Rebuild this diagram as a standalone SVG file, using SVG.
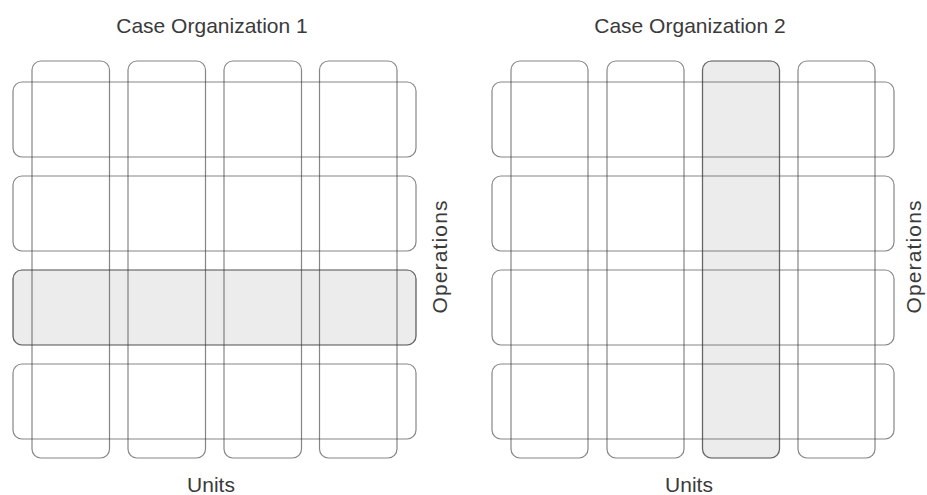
<svg xmlns="http://www.w3.org/2000/svg" width="927" height="495" viewBox="0 0 927 495">
  <style>
    .cell { fill: none; stroke: #3c3c3c; stroke-opacity: 0.62; stroke-width: 1.2; }
    .hl { fill: #ececec; stroke: #3c3c3c; stroke-opacity: 0.4; stroke-width: 1.2; }
    .label { font-family: "Liberation Sans", Arial, sans-serif; font-size: 21px; fill: #3a3a3a; }
  </style>
  <rect width="927" height="495" fill="#ffffff"/>

  <!-- Case Organization 1: units (columns) crossed by operations (rows); one operation highlighted -->
  <g id="org1">
    <g id="org1-op3-highlight"><rect class="hl" x="13" y="270" width="403" height="75" rx="9"/></g>
    <g id="org1-unit1"><rect class="cell" x="32" y="61" width="77.5" height="397" rx="9"/></g>
    <g id="org1-unit2"><rect class="cell" x="128" y="61" width="77.5" height="397" rx="9"/></g>
    <g id="org1-unit3"><rect class="cell" x="224" y="61" width="77.5" height="397" rx="9"/></g>
    <g id="org1-unit4"><rect class="cell" x="319.5" y="61" width="77.5" height="397" rx="9"/></g>
    <g id="org1-op1"><rect class="cell" x="13" y="82" width="403" height="75" rx="9"/></g>
    <g id="org1-op2"><rect class="cell" x="13" y="176" width="403" height="75" rx="9"/></g>
    <g id="org1-op3"><rect class="cell" x="13" y="270" width="403" height="75" rx="9"/></g>
    <g id="org1-op4"><rect class="cell" x="13" y="364" width="403" height="75" rx="9"/></g>
    <g id="org1-labels">
      <text class="label" x="212" y="33" text-anchor="middle">Case Organization 1</text>
      <text class="label" x="211" y="492" text-anchor="middle">Units</text>
      <text class="label" transform="translate(447 257) rotate(-90)" text-anchor="middle" textLength="113" lengthAdjust="spacing">Operations</text>
    </g>
  </g>

  <!-- Case Organization 2: same grid, one unit highlighted -->
  <g id="org2">
    <g id="org2-unit3-highlight"><rect class="hl" x="702.5" y="61" width="77" height="397" rx="9"/></g>
    <g id="org2-unit1"><rect class="cell" x="511" y="61" width="77" height="397" rx="9"/></g>
    <g id="org2-unit2"><rect class="cell" x="607" y="61" width="77" height="397" rx="9"/></g>
    <g id="org2-unit3"><rect class="cell" x="702.5" y="61" width="77" height="397" rx="9"/></g>
    <g id="org2-unit4"><rect class="cell" x="798" y="61" width="77" height="397" rx="9"/></g>
    <g id="org2-op1"><rect class="cell" x="492" y="82" width="402" height="75" rx="9"/></g>
    <g id="org2-op2"><rect class="cell" x="492" y="176" width="402" height="75" rx="9"/></g>
    <g id="org2-op3"><rect class="cell" x="492" y="270" width="402" height="75" rx="9"/></g>
    <g id="org2-op4"><rect class="cell" x="492" y="364" width="402" height="75" rx="9"/></g>
    <g id="org2-labels">
      <text class="label" x="690" y="33" text-anchor="middle">Case Organization 2</text>
      <text class="label" x="689" y="492" text-anchor="middle">Units</text>
      <text class="label" transform="translate(921 257) rotate(-90)" text-anchor="middle" textLength="113" lengthAdjust="spacing">Operations</text>
    </g>
  </g>

  <!-- no connectors in this figure -->
  <g id="connectors"/>
</svg>
